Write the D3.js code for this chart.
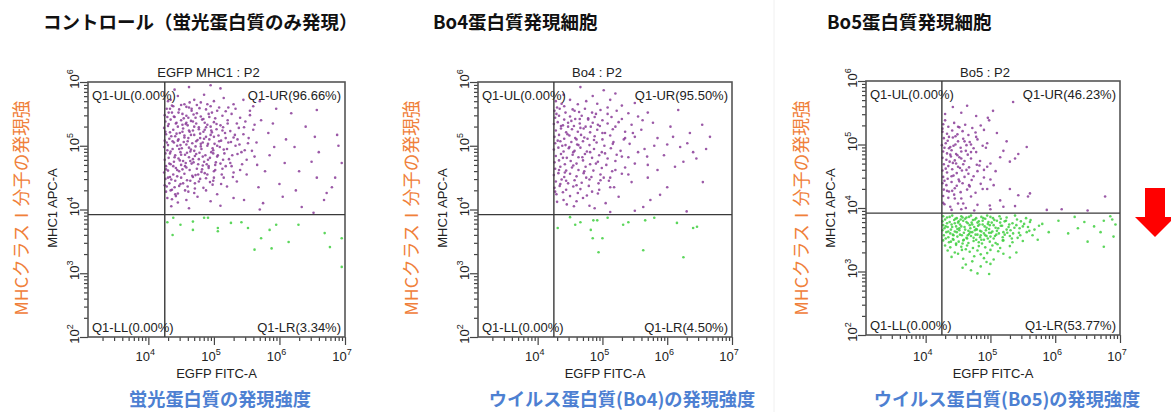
<!DOCTYPE html>
<html>
<head>
<meta charset="utf-8">
<title>MHC class I flow plots</title>
<script src="https://cdnjs.cloudflare.com/ajax/libs/d3/7.8.5/d3.min.js"></script>
<style>
  body { margin: 0; background: #fff; }
  text { font-family: "Liberation Sans", Arial, sans-serif; }
  .jp { font-family: "Noto Sans CJK JP", "Noto Sans", sans-serif; }
</style>
</head>
<body>
<div id="vis"></div>
<script>
// --- data -----------------------------------------------------------------
var panelTitles = ["コントロール（蛍光蛋白質のみ発現）", "Bo4蛋白質発現細胞", "Bo5蛋白質発現細胞"];
var plotTitles = ["EGFP MHC1 : P2", "Bo4 : P2", "Bo5 : P2"];
var bottomLabels = ["蛍光蛋白質の発現強度", "ウイルス蛋白質(Bo4)の発現強度", "ウイルス蛋白質(Bo5)の発現強度"];
var sideLabel = "MHCクラスⅠ分子の発現強";
var quadNames = ["Q1-UL", "Q1-UR", "Q1-LL", "Q1-LR"];
var quadPercents = [
    [0.00, 96.66, 0.00, 3.34],
    [0.00, 95.50, 0.00, 4.50],
    [0.00, 46.23, 0.00, 53.77]
];
var xMajor = [1e4, 1e5, 1e6, 1e7];
var yMajor = [1e2, 1e3, 1e4, 1e5, 1e6];
var xMin = 1200, xMax = 1e7, yMin = 1e2, yMax = 1e6;
var xGate = 1.78e4, yGate = 8.3e3;

// events, as [log10 FITC, log10 APC]
var ctrlUR = [
    [4.62,5.92],[5.1,5.9],[4.95,5.95],[4.4,5.88],
    [4.3,5.7],[4.45,5.78],[4.55,5.65],[4.7,5.72],[4.8,5.68],[4.85,5.8],[5.0,5.7],[5.15,5.75],[5.3,5.65],[5.45,5.72],[5.6,5.62],[4.38,5.62],[4.62,5.6],[4.95,5.62],[5.22,5.6],[5.7,5.7],
    [4.28,5.58],[4.36,5.63],[4.47,5.57],[4.58,5.61],[4.66,5.55],[4.74,5.64],[4.88,5.57],[4.97,5.52],[5.08,5.6],[5.18,5.54],[5.33,5.58],
    [4.25,5.48],[4.31,5.52],[4.4,5.45],[4.52,5.5],[4.61,5.44],[4.69,5.49],[4.8,5.46],[4.92,5.5],[5.02,5.43],[5.13,5.47],[5.27,5.5],[5.4,5.44],[5.55,5.48],
    [4.26,5.38],[4.34,5.41],[4.43,5.36],[4.5,5.4],[4.57,5.34],[4.65,5.39],[4.73,5.35],[4.84,5.42],[4.9,5.33],[5.0,5.37],[5.1,5.32],[5.21,5.4],[5.35,5.35],[5.48,5.38],
    [4.24,5.28],[4.3,5.31],[4.38,5.25],[4.45,5.3],[4.53,5.27],[4.6,5.32],[4.68,5.24],[4.77,5.29],[4.86,5.25],[4.95,5.3],[5.04,5.26],[5.14,5.29],[5.25,5.23],[5.38,5.28],[5.6,5.25],
    [4.27,5.18],[4.33,5.21],[4.41,5.15],[4.48,5.2],[4.55,5.16],[4.63,5.22],[4.7,5.17],[4.79,5.19],[4.88,5.14],[4.97,5.21],[5.07,5.16],[5.17,5.2],[5.3,5.13],[5.45,5.18],
    [4.25,5.08],[4.32,5.11],[4.39,5.05],[4.46,5.1],[4.54,5.06],[4.61,5.12],[4.67,5.04],[4.75,5.09],[4.83,5.05],[4.93,5.1],[5.01,5.03],[5.11,5.08],[5.22,5.05],[5.36,5.1],[5.52,5.04],
    [4.24,4.98],[4.3,5.01],[4.37,4.95],[4.44,5.0],[4.51,4.96],[4.58,5.02],[4.65,4.94],[4.72,4.99],[4.81,4.95],[4.9,5.0],[4.99,4.93],[5.09,4.98],[5.2,4.95],[5.33,5.0],[5.47,4.93],
    [4.26,4.88],[4.34,4.91],[4.41,4.85],[4.49,4.9],[4.56,4.86],[4.64,4.91],[4.71,4.84],[4.78,4.89],[4.87,4.85],[4.96,4.9],[5.05,4.83],[5.16,4.88],[5.28,4.85],[5.42,4.9],
    [4.25,4.78],[4.31,4.81],[4.39,4.75],[4.46,4.8],[4.53,4.76],[4.62,4.82],[4.69,4.74],[4.77,4.79],[4.85,4.75],[4.94,4.81],[5.03,4.74],[5.14,4.78],[5.25,4.73],[5.5,4.78],
    [4.27,4.68],[4.34,4.71],[4.42,4.65],[4.5,4.7],[4.58,4.66],[4.66,4.72],[4.74,4.64],[4.83,4.69],[4.92,4.65],[5.02,4.7],[5.13,4.64],[5.27,4.68],[5.4,4.62],
    [4.24,4.58],[4.3,4.61],[4.38,4.55],[4.47,4.6],[4.55,4.56],[4.63,4.62],[4.72,4.54],[4.81,4.59],[4.9,4.55],[5.0,4.6],[5.12,4.55],[5.3,4.58],
    [4.26,4.48],[4.33,4.51],[4.41,4.45],[4.5,4.5],[4.59,4.46],[4.68,4.51],[4.77,4.44],[4.88,4.49],[4.99,4.45],[5.15,4.5],[5.35,4.44],
    [4.25,4.38],[4.32,4.41],[4.4,4.35],[4.49,4.4],[4.6,4.36],[4.71,4.41],[4.84,4.34],[4.98,4.39],[5.2,4.36],
    [4.27,4.28],[4.36,4.31],[4.45,4.25],[4.56,4.3],[4.7,4.26],[4.88,4.3],[5.05,4.24],
    [4.29,4.18],[4.42,4.21],[4.58,4.15],[4.75,4.2],[4.95,4.13],[5.3,4.18],
    [4.35,4.05],[4.62,4.02],[5.1,4.06],[5.7,4.0],
    [4.29,5.45],[4.35,5.15],[4.42,5.35],[4.47,4.95],[4.52,5.22],[4.57,4.73],[4.6,5.07],[4.64,4.45],[4.7,5.3],[4.73,4.87],
    [4.79,5.12],[4.82,4.63],[4.86,5.36],[4.91,4.78],[4.95,5.17],[5.0,4.5],[5.05,5.0],[5.1,4.72],[4.33,4.88],[4.38,4.68],
    [4.28,5.05],[4.44,4.52],[4.54,5.43],[4.66,5.58],[4.76,4.55],[4.36,5.52],[4.62,4.97],[4.48,4.77],[4.84,5.22],[4.99,4.88],
    [4.27,4.63],[4.68,4.79],[4.45,5.08],[4.58,5.36],[4.8,5.03],[4.92,4.68],[4.34,4.3],[4.52,4.63],[4.72,5.44],[5.18,5.12],
    [4.26,5.22],[4.29,4.93],[4.31,5.34],[4.32,4.72],[4.33,5.58],[4.35,4.47],[4.37,5.07],[4.39,5.46],[4.4,4.82],[4.41,4.24],
    [4.43,5.19],[4.44,4.62],[4.46,5.52],[4.47,4.37],[4.49,5.01],[4.5,4.86],[4.52,5.33],[4.53,4.41],[4.55,5.13],[4.56,4.68],
    [4.58,5.47],[4.59,4.89],[4.61,4.28],[4.62,5.24],[4.64,4.76],[4.65,5.17],[4.67,4.53],[4.68,5.38],[4.7,4.92],[4.71,4.33],
    [4.73,5.07],[4.74,5.51],[4.76,4.71],[4.77,5.26],[4.79,4.48],[4.8,4.99],[4.82,5.41],[4.83,4.83],[4.85,5.11],[4.86,4.57],
    [4.88,5.29],[4.89,4.71],[4.91,5.03],[4.93,5.45],[4.94,4.43],[4.96,5.24],[4.98,4.96],[5.0,5.14],[5.02,4.62],[5.04,5.34],
    [5.06,4.85],[5.08,5.07],[5.11,4.4],[5.13,5.24],[5.15,4.94],[5.18,4.68],[5.21,5.35],[5.23,4.79],[5.26,5.06],[5.29,4.51],
    [5.32,5.17],[5.36,4.87],[5.39,5.02],[5.43,4.71],[5.46,5.29],[5.5,4.55],[5.53,5.12],[5.58,4.92],[5.62,5.33],[5.66,4.7],
    [4.3,4.5],[4.36,4.16],[4.28,4.36],[4.45,4.11],[4.5,5.64],[4.63,5.68],[4.78,5.59],[4.9,5.65],[5.05,5.55],[4.34,5.72],
    [5.72,5.4],[5.83,5.2],[5.92,4.98],[5.62,4.83],[6.08,4.73],[6.23,4.98],[6.18,5.51],[6.57,5.56],[6.88,5.17],[6.54,5.14],
    [6.95,4.73],[6.49,4.75],[6.57,4.5],[6.8,4.35],[6.72,4.26],[6.68,4.15],[5.46,4.15],[6.34,4.04],[6.52,3.95],[5.65,5.05],
    [5.78,4.6],[5.9,5.35],[6.0,4.4],[6.1,5.1],[5.55,5.55],[5.68,4.35],[6.3,4.6],[5.85,4.85],[6.4,5.3],[6.05,4.2],
    [5.95,5.58],[6.25,4.3],[5.75,4.1],[6.6,4.9],[6.9,5.0],[6.85,4.5]
];
var ctrlLR = [
    [4.38,3.87],[4.49,3.76],[4.37,3.6],[4.68,3.68],[4.68,3.81],[4.85,3.87],[4.91,3.87],[5.06,3.71],[5.06,3.66],[5.26,3.79],
    [5.42,3.8],[5.52,3.71],[5.62,3.37],[5.72,3.55],[5.88,3.39],[5.85,3.68],[5.95,3.76],[6.14,3.49],[6.29,3.76],[6.69,3.63],
    [6.77,3.41],[6.95,3.55],[6.95,3.1],[4.29,3.8]
];
var bo4UR = [
    [4.4,5.8],[4.66,5.92],[5.02,5.87],[4.85,5.78],[5.2,5.82],
    [4.28,5.7],[4.37,5.66],[4.5,5.72],[4.62,5.65],[4.75,5.7],[4.92,5.66],[5.12,5.72],[5.5,5.67],[5.3,5.63],
    [4.26,5.55],[4.34,5.58],[4.43,5.52],[4.54,5.57],[4.64,5.53],[4.73,5.58],[4.84,5.52],[4.97,5.56],[5.08,5.5],[5.22,5.55],[5.4,5.51],[6.17,5.56],[5.7,5.52],
    [4.27,5.44],[4.33,5.47],[4.41,5.41],[4.5,5.46],[4.58,5.42],[4.68,5.47],[4.78,5.41],[4.88,5.45],[5.0,5.4],[5.14,5.45],[5.3,5.42],[5.55,5.46],
    [4.25,5.34],[4.31,5.37],[4.39,5.32],[4.47,5.36],[4.56,5.31],[4.65,5.35],[4.74,5.3],[4.85,5.36],[4.96,5.31],[5.08,5.35],[5.2,5.3],[5.78,5.36],[6.54,5.33],[5.45,5.33],
    [4.28,5.24],[4.36,5.27],[4.44,5.21],[4.53,5.26],[4.62,5.22],[4.71,5.27],[4.81,5.21],[4.92,5.25],[5.04,5.2],[5.16,5.26],[5.35,5.22],[5.6,5.25],
    [4.26,5.14],[4.33,5.17],[4.41,5.11],[4.49,5.16],[4.58,5.12],[4.67,5.17],[4.77,5.11],[4.88,5.15],[5.0,5.1],[5.12,5.16],[5.33,5.1],[5.5,5.14],[6.09,5.14],[6.66,5.14],[5.85,5.12],
    [4.27,5.04],[4.35,5.07],[4.43,5.01],[4.52,5.06],[4.61,5.02],[4.7,5.07],[4.8,5.01],[4.91,5.05],[5.03,5.0],[5.17,5.06],[5.42,5.03],[6.31,5.04],[6.0,5.02],[6.2,4.98],
    [4.25,4.94],[4.32,4.97],[4.4,4.91],[4.48,4.96],[4.57,4.92],[4.66,4.97],[4.76,4.91],[4.87,4.95],[4.99,4.9],[5.13,4.96],[5.28,4.92],[5.65,4.95],[6.4,4.9],
    [4.28,4.84],[4.36,4.87],[4.45,4.81],[4.54,4.86],[4.63,4.82],[4.73,4.87],[4.84,4.81],[4.95,4.85],[5.08,4.8],[5.22,4.86],[5.69,4.83],[5.4,4.82],[6.45,4.8],
    [4.26,4.74],[4.33,4.77],[4.42,4.71],[4.51,4.76],[4.6,4.72],[4.7,4.77],[4.81,4.71],[4.93,4.75],[5.06,4.7],[5.2,4.76],[5.5,4.72],
    [4.27,4.64],[4.35,4.67],[4.44,4.61],[4.53,4.66],[4.63,4.62],[4.74,4.67],[4.86,4.61],[4.99,4.65],[5.15,4.6],[5.85,4.62],[6.12,4.67],[5.35,4.66],
    [4.25,4.54],[4.32,4.57],[4.41,4.51],[4.5,4.56],[4.6,4.52],[4.71,4.57],[4.83,4.51],[4.97,4.55],[5.12,4.5],[5.3,4.56],[6.55,4.43],[5.7,4.5],
    [4.28,4.44],[4.37,4.47],[4.47,4.41],[4.57,4.46],[4.68,4.42],[4.8,4.47],[4.94,4.41],[5.1,4.45],[5.45,4.43],[6.0,4.35],
    [4.26,4.34],[4.34,4.37],[4.44,4.31],[4.55,4.36],[4.66,4.32],[4.79,4.37],[4.95,4.31],[5.18,4.35],[5.89,4.23],
    [4.29,4.24],[4.39,4.27],[4.5,4.21],[4.62,4.26],[4.76,4.22],[4.93,4.25],[5.25,4.2],[5.74,4.15],
    [4.3,4.12],[4.45,4.08],[4.6,4.13],[4.8,4.06],[5.05,4.1],[5.63,4.04],[5.12,3.96],[5.5,3.98],[6.3,3.97],
    [4.3,5.6],[4.47,5.3],[4.55,4.9],[4.38,5.0],[4.65,5.42],[4.72,4.6],[4.82,5.3],[4.9,5.5],[4.42,4.58],[4.6,5.1],[5.02,4.5],[4.35,4.4],
    [4.29,5.5],[4.31,5.08],[4.33,4.62],[4.36,5.31],[4.39,4.81],[4.41,5.62],[4.44,4.45],[4.46,5.18],[4.49,4.98],[4.52,5.39],
    [4.55,4.69],[4.57,5.55],[4.6,4.38],[4.63,5.01],[4.66,5.28],[4.69,4.82],[4.72,5.13],[4.75,4.5],[4.78,5.43],[4.81,4.9],
    [4.84,4.28],[4.87,5.09],[4.9,4.72],[4.93,5.33],[4.97,4.46],[5.0,5.2],[5.04,4.88],[5.08,5.6],[5.12,4.35],[5.16,5.03],
    [5.2,4.62],[5.25,5.37],[5.3,4.83],[5.35,5.12],[5.4,4.55],[5.47,5.2],[5.55,4.9],[5.62,5.4],[5.7,4.7],[5.8,5.0],
    [5.95,4.85],[6.05,5.3],[6.25,4.75],[6.35,5.2],[6.6,4.95],[4.27,4.28],[4.4,4.15],[4.56,4.05],[4.7,4.18],[4.88,4.02]
];
var bo4LR = [
    [4.31,3.71],[4.58,3.76],[4.66,3.8],[4.86,3.83],[4.92,3.83],[4.82,3.68],[4.85,3.55],[5.0,3.55],[4.94,3.33],[5.08,3.87],
    [5.32,3.76],[5.4,3.8],[5.66,3.83],[5.63,3.36],[6.15,3.79],[6.25,3.25],[6.4,3.71],[6.46,3.73],[4.5,3.88],[5.8,3.87]
];
var bo5UR = [
    [4.64,5.61],[4.42,5.59],[5.35,5.67],[5.04,5.53],[4.96,5.42],[4.98,5.38],[4.3,5.48],[4.55,5.5],[4.78,5.45],
    [4.27,5.32],[4.35,5.28],[4.44,5.34],[4.52,5.27],[4.61,5.31],[4.72,5.26],[4.85,5.3],
    [4.26,5.2],[4.33,5.17],[4.41,5.22],[4.49,5.16],[4.57,5.21],[4.66,5.15],[4.77,5.19],[4.9,5.23],[5.1,5.18],
    [4.28,5.1],[4.34,5.06],[4.42,5.11],[4.5,5.05],[4.58,5.09],[4.68,5.04],[4.8,5.08],[4.95,5.02],
    [4.25,4.99],[4.31,5.02],[4.38,4.96],[4.46,5.0],[4.54,4.95],[4.63,4.99],[4.74,4.94],[4.88,4.98],[5.56,4.96],
    [4.27,4.89],[4.33,4.86],[4.4,4.91],[4.47,4.85],[4.55,4.89],[4.65,4.84],[4.78,4.88],[5.43,4.85],[5.2,4.9],
    [4.26,4.79],[4.32,4.76],[4.39,4.81],[4.45,4.75],[4.52,4.8],[4.6,4.74],[4.7,4.78],[4.84,4.74],[5.3,4.73],[5.38,4.78],[5.15,4.8],
    [4.28,4.69],[4.35,4.66],[4.42,4.71],[4.5,4.65],[4.58,4.69],[4.67,4.64],[4.79,4.68],[4.95,4.65],
    [4.26,4.59],[4.33,4.56],[4.41,4.61],[4.48,4.55],[4.56,4.59],[4.66,4.54],[4.8,4.58],
    [4.27,4.49],[4.34,4.46],[4.43,4.51],[4.51,4.45],[4.6,4.49],[4.71,4.44],[4.9,4.48],
    [4.26,4.39],[4.32,4.36],[4.4,4.41],[4.48,4.35],[4.57,4.39],[4.68,4.34],[4.85,4.38],[5.05,4.36],
    [4.28,4.29],[4.36,4.26],[4.45,4.31],[4.54,4.25],[4.64,4.29],[4.77,4.24],[4.95,4.3],
    [4.27,4.19],[4.35,4.16],[4.44,4.21],[4.55,4.15],[4.7,4.18],[5.43,4.2],[5.61,4.23],[5.58,4.18],[6.77,4.18],
    [4.29,4.06],[4.38,4.02],[4.5,4.07],[4.62,4.0],[4.8,4.05],[4.99,4.04],[5.2,4.02],[5.87,3.97],[6.1,3.98],[6.5,3.96],
    [4.3,5.38],[4.37,4.73],[4.46,5.13],[4.53,4.63],[4.62,4.9],[4.29,4.43],[4.36,4.94],[4.41,4.27],[4.49,4.83],[4.7,5.0],
    [5.0,4.7],[5.25,5.05],[4.9,4.6],
    [4.26,5.25],[4.29,4.95],[4.31,4.62],[4.33,4.27],[4.36,5.12],[4.38,4.84],[4.4,4.5],[4.43,4.98],[4.45,4.15],[4.47,4.7],
    [4.5,5.28],[4.52,4.42],[4.55,4.78],[4.58,4.07],[4.6,5.05],[4.63,4.6],[4.67,4.36],[4.7,4.88],[4.74,4.5],[4.78,5.12],
    [4.83,4.67],[4.88,4.3],[4.93,4.95],[5.0,4.45],[5.08,4.58],[5.15,4.12],[5.3,4.3],[4.27,4.08],[4.4,3.97],[4.55,3.98],
    [4.75,3.96],[5.0,3.98],[5.38,4.03]
];
var bo5LR = [
    [4.27,3.87],[4.33,3.85],[4.41,3.88],[4.48,3.84],[4.55,3.87],[4.63,3.85],[4.7,3.88],[4.78,3.84],[4.86,3.86],[4.95,3.88],[5.04,3.84],[5.14,3.87],[5.25,3.85],[5.38,3.88],[5.55,3.84],[6.3,3.86],[6.85,3.87],
    [4.26,3.79],[4.3,3.82],[4.37,3.78],[4.44,3.81],[4.5,3.77],[4.58,3.8],[4.65,3.76],[4.73,3.81],[4.8,3.77],[4.88,3.8],[4.97,3.78],[5.06,3.81],[5.15,3.77],[5.24,3.8],[5.34,3.76],[5.47,3.79],[5.62,3.81],[6.45,3.78],[6.75,3.8],
    [4.27,3.73],[4.34,3.7],[4.4,3.74],[4.47,3.71],[4.53,3.74],[4.6,3.7],[4.68,3.73],[4.75,3.7],[4.83,3.74],[4.91,3.71],[4.99,3.73],[5.08,3.69],[5.18,3.72],[5.28,3.7],[5.4,3.73],[5.58,3.7],[5.75,3.72],[6.6,3.71],[6.93,3.74],
    [4.26,3.65],[4.32,3.62],[4.39,3.66],[4.45,3.63],[4.52,3.65],[4.59,3.61],[4.66,3.64],[4.72,3.62],[4.79,3.66],[4.86,3.63],[4.93,3.65],[5.01,3.61],[5.1,3.64],[5.2,3.62],[5.31,3.65],[5.44,3.61],[5.6,3.64],[5.9,3.62],[6.2,3.6],
    [4.28,3.57],[4.35,3.54],[4.42,3.58],[4.49,3.55],[4.56,3.57],[4.63,3.53],[4.7,3.56],[4.77,3.58],[4.84,3.54],[4.92,3.57],[5.0,3.55],[5.09,3.58],[5.19,3.54],[5.3,3.56],[5.42,3.53],[5.65,3.57],[6.9,3.55],
    [4.27,3.49],[4.36,3.46],[4.43,3.5],[4.51,3.47],[4.58,3.49],[4.66,3.45],[4.74,3.48],[4.82,3.46],[4.9,3.5],[4.99,3.47],[5.08,3.45],[5.2,3.49],[5.34,3.46],[5.5,3.48],[6.5,3.47],
    [4.3,3.41],[4.38,3.38],[4.47,3.42],[4.55,3.39],[4.64,3.41],[4.73,3.37],[4.82,3.4],[4.92,3.38],[5.03,3.41],[5.15,3.37],[5.3,3.4],[6.75,3.39],
    [4.34,3.33],[4.45,3.3],[4.56,3.34],[4.68,3.31],[4.8,3.33],[4.95,3.29],[5.12,3.32],[5.4,3.3],
    [4.4,3.23],[4.58,3.2],[4.75,3.24],[4.9,3.21],[5.05,3.19],[5.3,3.22],
    [4.62,3.11],[4.85,3.08],[5.0,3.12],[4.7,3.02],[4.98,2.96],[4.8,2.97],
    [4.45,3.76],[4.52,3.68],[4.61,3.83],[4.67,3.59],[4.71,3.77],[4.76,3.65],[4.81,3.72],[4.85,3.57],[4.89,3.84],[4.94,3.69],
    [4.98,3.61],[5.02,3.77],[5.05,3.52],[5.12,3.68],[5.16,3.83],[5.22,3.58],[4.38,3.6],[4.42,3.51],[4.57,3.44],[4.64,3.52],
    [4.69,3.68],[4.78,3.5],[4.87,3.44],[4.96,3.52],[5.11,3.43],[5.25,3.66],[4.31,3.71],[4.48,3.62],[4.54,3.82],[5.35,3.6],
    [5.45,3.68],[5.52,3.75],
    [4.29,3.68],[4.31,3.52],[4.33,3.76],[4.35,3.63],[4.37,3.86],[4.39,3.47],[4.41,3.7],[4.43,3.57],[4.46,3.83],[4.47,3.44],
    [4.49,3.67],[4.51,3.79],[4.53,3.58],[4.55,3.71],[4.57,3.85],[4.59,3.5],[4.61,3.66],[4.63,3.78],[4.65,3.57],[4.67,3.86],
    [4.69,3.62],[4.72,3.74],[4.74,3.53],[4.76,3.82],[4.78,3.67],[4.8,3.58],[4.82,3.79],[4.84,3.64],[4.86,3.5],[4.88,3.74],
    [4.9,3.6],[4.92,3.83],[4.94,3.56],[4.96,3.75],[4.98,3.67],[5.0,3.86],[5.03,3.63],[5.05,3.73],[5.07,3.56],[5.1,3.8],
    [5.13,3.6],[5.16,3.72],[5.19,3.49],[5.22,3.79],[5.26,3.61],[5.29,3.74],[5.33,3.52],[5.37,3.69],[5.41,3.82],[5.46,3.57],
    [5.5,3.71],[5.56,3.62],[5.61,3.78],[5.68,3.66],[5.73,3.5],[5.8,3.75],[6.05,3.8],[6.35,3.68],[6.7,3.62],[6.88,3.82],
    [4.5,3.28],[4.62,3.35],[4.72,3.16],[4.85,3.27],[5.0,3.34],[5.2,3.28],[4.57,3.06],[4.94,3.15]
];

var panelEvents = [[ctrlUR, ctrlLR], [bo4UR, bo4LR], [bo5UR, bo5LR]];

// --- layout ---------------------------------------------------------------
var W = 1171, H = 412;
var panels = [
    {left: 88,  right: 345,  top: 82, bottom: 337, titleX: 43,  sideX: 20,  labelX: 220},
    {left: 478, right: 732,  top: 82, bottom: 337, titleX: 433, sideX: 410, labelX: 622},
    {left: 866, right: 1120, top: 81, bottom: 335, titleX: 827, sideX: 800, labelX: 1007}
];
var purple = "#8a3c98", green = "#3fcf3f", gateColor = "#3a3a3a", boxColor = "#555";

var svg = d3.select("#vis").append("svg")
    .attr("width", W)
    .attr("height", H);

svg.append("rect").attr("width", W).attr("height", H).attr("fill", "#fff");

// faint divider seen in the picture between 2nd and 3rd panel
svg.append("line")
    .attr("x1", 774).attr("x2", 774).attr("y1", 0).attr("y2", H)
    .attr("stroke", "#f0f0f0");

function minorTicks(lo, hi) {
    var out = [];
    for (var d = 2; d <= 7; d++) {
        for (var k = 2; k <= 9; k++) {
            var v = k * Math.pow(10, d);
            if (v >= lo && v <= hi) out.push(v);
        }
    }
    return out;
}

panels.forEach(function(p, i) {
    var g = svg.append("g");
    var x = d3.scaleLog().domain([xMin, xMax]).range([p.left, p.right]);
    var y = d3.scaleLog().domain([yMin, yMax]).range([p.bottom, p.top]);
    var cx = (p.left + p.right) / 2;

    // panel heading
    g.append("text").attr("class", "jp")
        .attr("x", p.titleX).attr("y", 29)
        .attr("font-size", 18.5).attr("font-weight", 700).attr("fill", "#111")
        .text(panelTitles[i]);

    // orange side label
    g.append("text").attr("class", "jp")
        .attr("transform", "translate(" + p.sideX + "," + 208 + ") rotate(-90)")
        .attr("text-anchor", "middle").attr("dominant-baseline", "central")
        .attr("font-size", 17.7).attr("fill", "#f0803a")
        .text(sideLabel);

    // blue bottom label
    g.append("text").attr("class", "jp")
        .attr("x", p.labelX).attr("y", 406)
        .attr("text-anchor", "middle")
        .attr("font-size", 18.2).attr("font-weight", 700).attr("fill", "#4d80d2")
        .text(bottomLabels[i]);

    // plot title
    g.append("text")
        .attr("x", cx - 8).attr("y", 77)
        .attr("text-anchor", "middle").attr("font-size", 13).attr("fill", "#222")
        .text(plotTitles[i]);

    // events
    var ev = panelEvents[i];
    [[ev[0], purple], [ev[1], green]].forEach(function(set) {
        g.append("g").selectAll("circle")
            .data(set[0])
            .join("circle")
            .attr("cx", function(d) { return x(Math.pow(10, d[0])); })
            .attr("cy", function(d) { return y(Math.pow(10, d[1])); })
            .attr("r", 1.3)
            .attr("fill", set[1])
            .attr("opacity", 0.85);
    });

    // axes: minor + major ticks, no domain line (box draws it)
    var xAxisMinor = d3.axisBottom(x).tickValues(minorTicks(xMin, xMax)).tickSize(4).tickFormat("");
    var xAxisMajor = d3.axisBottom(x).tickValues(xMajor).tickSize(8).tickFormat("");
    var yAxisMinor = d3.axisLeft(y).tickValues(minorTicks(yMin, yMax)).tickSize(4).tickFormat("");
    var yAxisMajor = d3.axisLeft(y).tickValues(yMajor).tickSize(8).tickFormat("");
    [xAxisMinor, xAxisMajor].forEach(function(ax) {
        var a = g.append("g").attr("transform", "translate(0," + p.bottom + ")").call(ax);
        a.select(".domain").remove();
        a.selectAll("line").attr("stroke", "#444").attr("stroke-width", 1.2);
    });
    [yAxisMinor, yAxisMajor].forEach(function(ax) {
        var a = g.append("g").attr("transform", "translate(" + p.left + ",0)").call(ax);
        a.select(".domain").remove();
        a.selectAll("line").attr("stroke", "#444").attr("stroke-width", 1.2);
    });

    // x tick labels 10^n
    xMajor.forEach(function(v) {
        var t = g.append("text")
            .attr("x", x(v) - 3).attr("y", 361)
            .attr("text-anchor", "middle").attr("font-size", 13).attr("fill", "#222");
        t.append("tspan").text("10");
        t.append("tspan").attr("dy", -6).attr("font-size", 9).text(Math.round(Math.log10(v)));
    });
    // y tick labels 10^n, rotated
    yMajor.forEach(function(v) {
        var t = g.append("text")
            .attr("transform", "translate(" + (p.left - 9) + "," + (y(v) - 3) + ") rotate(-90)")
            .attr("text-anchor", "middle").attr("font-size", 13).attr("fill", "#222");
        t.append("tspan").text("10");
        t.append("tspan").attr("dy", -6).attr("font-size", 9).text(Math.round(Math.log10(v)));
    });

    // axis titles
    g.append("text")
        .attr("x", cx).attr("y", 378)
        .attr("text-anchor", "middle").attr("font-size", 13).attr("fill", "#222")
        .text("EGFP FITC-A");
    g.append("text")
        .attr("transform", "translate(" + (p.left - 31) + ",208) rotate(-90)")
        .attr("text-anchor", "middle").attr("font-size", 13).attr("fill", "#222")
        .text("MHC1 APC-A");

    // plot box
    g.append("rect")
        .attr("x", p.left).attr("y", p.top)
        .attr("width", p.right - p.left).attr("height", p.bottom - p.top)
        .attr("fill", "none").attr("stroke", boxColor).attr("stroke-width", 1.6);

    // quadrant gates
    g.append("line")
        .attr("x1", x(xGate)).attr("x2", x(xGate)).attr("y1", p.top).attr("y2", p.bottom)
        .attr("stroke", gateColor).attr("stroke-width", 1.4);
    g.append("line")
        .attr("x1", p.left).attr("x2", p.right).attr("y1", y(yGate)).attr("y2", y(yGate))
        .attr("stroke", gateColor).attr("stroke-width", 1.4);

    // quadrant labels
    var fmt = d3.format(".2f");
    var qpos = [
        {x: p.left + 4,  y: p.top + 18,   anchor: "start"},
        {x: p.right - 4, y: p.top + 18,   anchor: "end"},
        {x: p.left + 4,  y: p.bottom - 5, anchor: "start"},
        {x: p.right - 4, y: p.bottom - 5, anchor: "end"}
    ];
    quadNames.forEach(function(n, q) {
        g.append("text")
            .attr("x", qpos[q].x).attr("y", qpos[q].y)
            .attr("text-anchor", qpos[q].anchor)
            .attr("font-size", 13).attr("fill", "#222")
            .text(n + "(" + fmt(quadPercents[i][q]) + "%)");
    });
});

// red arrow next to the Bo5 panel
var ax0 = 1155, ay0 = 188;
svg.append("path")
    .attr("d", "M" + (ax0 - 10) + "," + ay0 + " h20 v29 h10 l-20,20 l-20,-20 h10 z")
    .attr("fill", "#ff0000");
</script>
</body>
</html>
